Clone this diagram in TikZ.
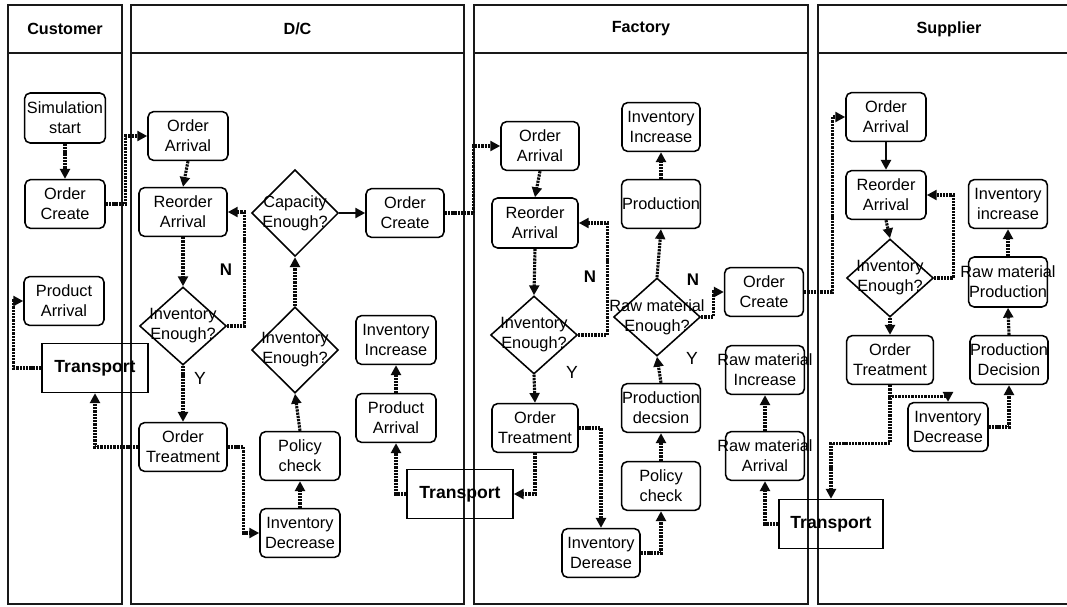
\documentclass[tikz,border=0pt]{standalone}
\usepackage{fontspec}
\setmainfont{Liberation Sans}
\usetikzlibrary{arrows.meta,positioning,shapes.geometric}
\definecolor{laneline}{RGB}{25,25,25}
\definecolor{flowcol}{RGB}{10,10,10}
\newcommand{\nodefont}{\fontsize{11.6}{14.2}\selectfont}
\newcommand{\boxfit}[1]{\makebox[1.85cm]{#1}}
\newcommand{\decnode}[4][1.95cm]{% name, position, text
  \node[dec, minimum height=#1] (#2) at #3 {};
  \node[dectxt] (#2-t) at #3 {#4};
}
\tikzset{
  lane/.style={draw=laneline, line width=0.9pt},
  title/.style={font=\bfseries\fontsize{11.5}{14}\selectfont},
  proc/.style={draw, rounded corners=4pt, line width=1.1pt, minimum width=2cm,
    minimum height=1.22cm, align=center, inner sep=1pt, font=\nodefont},
  dec/.style={draw, diamond, line width=1.1pt, minimum width=2.17cm, inner sep=0pt},
  dectxt/.style={align=center, inner sep=0pt, font=\nodefont},
  trans/.style={draw, line width=1.1pt, minimum width=2.65cm, minimum height=1.22cm,
    font=\bfseries\fontsize{12.5}{14}\selectfont},
  flow/.style={flowcol, line width=2.2pt, dash pattern=on 1.6pt off 0.7pt,
    -{Triangle[length=7pt,width=7pt]}},
  sflow/.style={flowcol, line width=2pt, -{Triangle[length=7pt,width=7pt]}},
  nlab/.style={font=\bfseries\fontsize{12}{14}\selectfont},
  ylab/.style={font=\fontsize{12.5}{14}\selectfont}
}

\begin{document}
\begin{tikzpicture}[x=0.025cm, y=-0.025cm]
  \path[use as bounding box, clip] (0,0) rectangle (1067,606);
  % lanes
  \foreach \ln/\xa/\xb/\ttl in {cu/8/122/Customer, dc/131/464/{D/C}, fa/474/808/Factory, su/818/1080/Supplier} {
    \draw[lane] (\xa,5) rectangle (\xb,604);
    \draw[lane] (\xa,53) -- (\xb,53);
    \node[title] (hd-\ln) at ({(\xa+\xb)/2},29) {\ttl};
  }

  % Customer
  \node[proc, minimum width=2.02cm, minimum height=1.25cm] (cSS) at (65,118) {Simulation\\start};
  \node[proc] (cOC) at (65,204) {Order\\Create};
  \node[proc] (cPA) at (64,301) {Product\\Arrival};
  \node[trans] (cTr) at (95,368) {Transport};

  % D/C
  \node[proc] (dOA) at (188,136) {Order\\Arrival};
  \node[proc, minimum width=2.2cm] (dRA) at (183,212) {Reorder\\Arrival};
  \decnode{dIE}{(183,326)}{Inventory\\Enough?}
  \decnode[2.17cm]{dCE}{(295,213)}{Capacity\\Enough?}
  \node[proc, minimum width=1.95cm] (dOC) at (405,213) {Order\\Create};
  \decnode[2.15cm]{dIE2}{(295,350)}{Inventory\\Enough?}
  \node[proc] (dII) at (396,340) {Inventory\\Increase};
  \node[proc] (dPA) at (396,418) {Product\\Arrival};
  \node[proc, minimum width=2.2cm] (dOT) at (183,447) {Order\\Treatment};
  \node[proc] (dPC) at (300,456) {Policy\\check};
  \node[proc] (dID) at (300,533) {Inventory\\Decrease};
  \node[trans] (dTr) at (460,494) {Transport};
  \node[nlab] (dN) at (226,270) {N};
  \node[ylab] (dY) at (200,378) {Y};

  % Factory
  \node[proc, minimum width=1.95cm] (fOA) at (540,146) {Order\\Arrival};
  \node[proc, minimum width=2.15cm, minimum height=1.25cm] (fRA) at (535,223) {Reorder\\Arrival};
  \decnode{fIE}{(534,335)}{Inventory\\Enough?}
  \node[proc, minimum width=1.95cm] (fII) at (661,127) {Inventory\\Increase};
  \node[proc, minimum width=1.97cm] (fPr) at (661,204) {\boxfit{Production}};
  \decnode{fRE}{(657,317)}{Raw material\\Enough?}
  \node[proc, minimum width=1.97cm] (fOC) at (764,292) {Order\\Create};
  \node[proc, minimum width=1.97cm] (fRMI) at (765,370) {\boxfit{Raw material}\\Increase};
  \node[proc, minimum width=1.97cm] (fRMA) at (765,456) {\boxfit{Raw material}\\Arrival};
  \node[proc, minimum width=1.97cm] (fPD) at (661,408) {\boxfit{Production}\\decsion};
  \node[proc, minimum width=1.97cm] (fPC) at (661,486) {Policy\\check};
  \node[proc, minimum width=2.15cm] (fOT) at (535,428) {Order\\Treatment};
  \node[proc, minimum width=1.95cm] (fID) at (601,553) {Inventory\\Derease};
  \node[trans, minimum width=2.6cm] (sTr) at (831,524) {Transport};
  \node[nlab] (fN) at (590,277) {N};
  \node[ylab] (fY) at (572,372) {Y};
  \node[nlab] (fN2) at (693,280) {N};
  \node[ylab] (fY2) at (692,358) {Y};

  % Supplier
  \node[proc] (sOA) at (886,117) {Order\\Arrival};
  \node[proc] (sRA) at (886,195) {Reorder\\Arrival};
  \decnode{sIE}{(890,278)}{Inventory\\Enough?}
  \node[proc, minimum width=1.97cm] (sII) at (1008,204) {Inventory\\increase};
  \node[proc, minimum width=1.97cm, minimum height=1.25cm] (sRP) at (1008,282) {\boxfit{Raw material}\\\boxfit{Production}};
  \node[proc, minimum width=1.95cm] (sPD) at (1009,360) {\boxfit{Production}\\Decision};
  \node[proc, minimum width=2.17cm] (sOT) at (890,360) {Order\\Treatment};
  \node[proc] (sID) at (948,427) {Inventory\\Decrease};

  % connectors
  \draw[flow] (cSS) -- (cOC);
  \draw[flow] (cOC.east) -- ++(20,0) |- (dOA.west);
  \draw[flow] (cTr.west) -- ++(-28,0) |- (cPA.west);
  \draw[flow] (dOT.west) -| (cTr.south);
  \draw[flow] (dOA.south) -- (dRA.north);
  \draw[flow] (dRA.south) -- (dIE.north);
  \draw[flow] (dIE.east) -- ++(17,0) |- (dRA.east);
  \draw[flow] (dIE.south) -- (dOT.north);
  \draw[flow] (dOT.east) -- ++(16,0) |- (dID.west);
  \draw[flow] (dID.north) -- (dPC.south);
  \draw[flow] (dPC.north) -- (dIE2.south);
  \draw[flow] (dIE2.north) -- (dCE.south);
  \draw[sflow] (dCE.east) -- (dOC.west);
  \draw[flow] (dOC.east) -- ++(29,0) |- (fOA.west);
  \draw[flow] (dTr.west) -| (dPA.south);
  \draw[flow] (dPA.north) -- (dII.south);
  \draw[flow] (fOA.south) -- (fRA.north);
  \draw[flow] (fRA.south) -- (fIE.north);
  \draw[flow] (fIE.east) -- ++(29,0) |- (fRA.east);
  \draw[flow] (fIE.south) -- (fOT.north);
  \draw[flow] (fOT.south) |- (dTr.east);
  \draw[flow] (fOT.east) -| (fID.north);
  \draw[flow] (fID.east) -| (fPC.south);
  \draw[flow] (fPC.north) -- (fPD.south);
  \draw[flow] (fPD.north) -- (fRE.south);
  \draw[flow] (fRE.north) -- (fPr.south);
  \draw[flow] (fPr.north) -- (fII.south);
  \draw[flow] (fRE.east) -- ++(12,0) |- (fOC.west);
  \draw[flow] (fOC.east) -- ++(28,0) |- (sOA.west);
  \draw[flow] (sTr.west) -| (fRMA.south);
  \draw[flow] (fRMA.north) -- (fRMI.south);
  \draw[sflow] (sOA.south) -- (sRA.north);
  \draw[flow] (sRA.south) -- (sIE.north);
  \draw[flow] (sIE.east) -- ++(19,0) |- (sRA.east);
  \draw[flow] (sIE.south) -- (sOT.north);
  \draw[flow] (sOT.south) -- ++(0,11) -| (sID.north);
  \draw[flow] (sOT.south) -- ++(0,58) -| (sTr.north);
  \draw[flow] (sID.east) -| (sPD.south);
  \draw[flow] (sPD.north) -- (sRP.south);
  \draw[flow] (sRP.north) -- (sII.south);
\end{tikzpicture}
\end{document}
